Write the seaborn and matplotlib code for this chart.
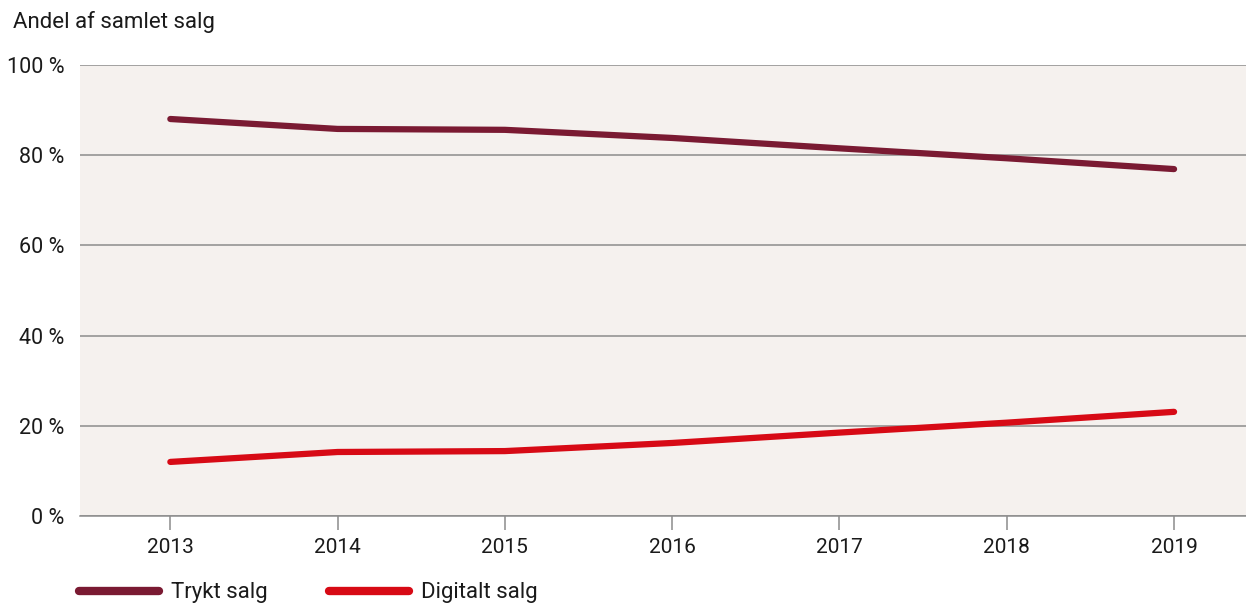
import pandas as pd
import matplotlib.pyplot as plt
import seaborn as sns

years = [2013, 2014, 2015, 2016, 2017, 2018, 2019]
trykt = [88.0, 85.8, 85.6, 83.8, 81.5, 79.3, 76.9]
digitalt = [12.0, 14.2, 14.4, 16.2, 18.5, 20.7, 23.1]
series_names = ['Trykt salg', 'Digitalt salg']
colors = ['#7a1a32', '#d70a15']

df = pd.DataFrame({
    'year': years * 2,
    'share': trykt + digitalt,
    'kind': [series_names[0]] * len(years) + [series_names[1]] * len(years),
})

sns.set_style('white')
plt.rcParams['font.family'] = ['Roboto', 'DejaVu Sans']

fig = plt.figure(figsize=(12.46, 6.05), dpi=100)
ax = fig.add_axes([0.0642, 0.147, 0.9358, 0.7458])
ax.set_facecolor('#f5f1ee')

sns.lineplot(data=df, x='year', y='share', hue='kind', palette=colors,
             linewidth=4.5, ax=ax, legend=False, solid_capstyle='round')

ax.set_xlim(2012.46, 2019.43)
ax.set_ylim(0, 100)
ax.set_yticks(range(0, 101, 20))
ax.set_yticklabels([f'{v} %' for v in range(0, 101, 20)])
ax.set_xticks(years)
ax.set_xticklabels([str(y) for y in years])
ax.grid(axis='y', color='#8c8c8c', linewidth=1.1)
ax.set_axisbelow(True)
for s in ['top', 'right', 'left']:
    ax.spines[s].set_visible(False)
ax.spines['bottom'].set_color('#8c8c8c')
ax.spines['bottom'].set_linewidth(1.1)
ax.tick_params(axis='x', length=10, width=1.1, color='#8c8c8c', pad=6,
               labelsize=15, labelcolor='#1a1a1a', direction='out', bottom=True)
ax.tick_params(axis='y', length=0, pad=11, labelsize=15.5, labelcolor='#1a1a1a')
ax.set_xlabel('')
ax.set_ylabel('')

fig.text(0.0105, 0.963, 'Andel af samlet salg', fontsize=16, color='#1a1a1a',
         va='center', ha='left')

handles = [plt.Line2D([], [], color=c, linewidth=6, solid_capstyle='round')
           for c in colors]
fig.legend(handles, series_names, loc='center left', bbox_to_anchor=(0.047, 0.02),
           ncol=2, frameon=False, fontsize=16, handlelength=3.6,
           handletextpad=0.55, columnspacing=2.75, labelcolor='#1a1a1a')

fig.savefig('out.png', dpi=100)
